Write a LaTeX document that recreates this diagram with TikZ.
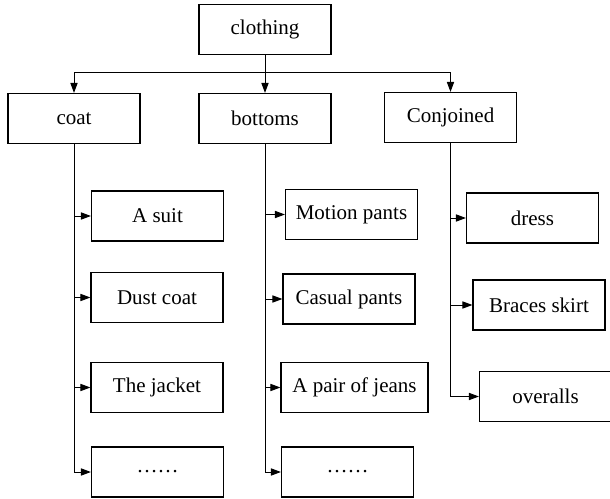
\documentclass[tikz,border=0pt]{standalone}
\usepackage{fontspec}
\setmainfont{Liberation Serif}
\usetikzlibrary{arrows.meta, positioning}

\begin{document}
\begin{tikzpicture}[
  x=0.5pt, y=-0.5pt,
  every node/.style={font=\fontsize{10.5}{12}\selectfont},
  box/.style={draw, line width=0.6pt, minimum width=66pt, minimum height=25pt, inner sep=1pt, text centered},
  arrow/.style={-{Triangle[width=3.6pt,length=5pt]}, line width=0.5pt}
]
\useasboundingbox (0,0) rectangle (610,498);

% Top levels
\node[box] (clothing) at (265,29.5) {clothing};
\node[box] (coat) at (74,118.5) {coat};
\node[box] (bottoms) at (265,118.5) {bottoms};
\node[box] (conjoined) at (450.5,117.5) {Conjoined};
\coordinate (bus) at (265,72.7);

% Coat
\node[box] (suit) at (157.5,216) {A suit};
\node[box] (dustcoat) at (157,297.5) {Dust coat};
\node[box] (jacket) at (157,387.5) {The jacket};
\node[box] (coatmore) at (157.5,472) {……};

% Bottoms
\node[box] (motion) at (351.5,214.5) {Motion pants};
\node[box] (casual) at (349,299) {Casual pants};
\node[box, minimum width=73.5pt] (jeans) at (354.5,387.5) {A pair of jeans};
\node[box] (bottomsmore) at (347.5,472) {……};

% Conjoined
\node[box] (dress) at (532.5,218) {dress};
\node[box] (braces) at (539,305) {Braces skirt};
\node[box] (overalls) at (545.5,396.5) {overalls};

% Arrows (first level)
\draw[arrow] (clothing) -- (bottoms);
\draw[arrow] (bus) -| (coat);
\draw[arrow] (bus) -| (conjoined);

% Arrows (second level)
\draw[arrow] (coat.south) |- (suit);
\draw[arrow] (coat.south) |- (dustcoat);
\draw[arrow] (coat.south) |- (jacket);
\draw[arrow] (coat.south) |- (coatmore);
\draw[arrow] (bottoms.south) |- (motion);
\draw[arrow] (bottoms.south) |- (casual);
\draw[arrow] (bottoms.south) |- (jeans);
\draw[arrow] (bottoms.south) |- (bottomsmore);
\draw[arrow] (conjoined.south) |- (dress);
\draw[arrow] (conjoined.south) |- (braces);
\draw[arrow] (conjoined.south) |- (overalls);
\end{tikzpicture}
\end{document}
